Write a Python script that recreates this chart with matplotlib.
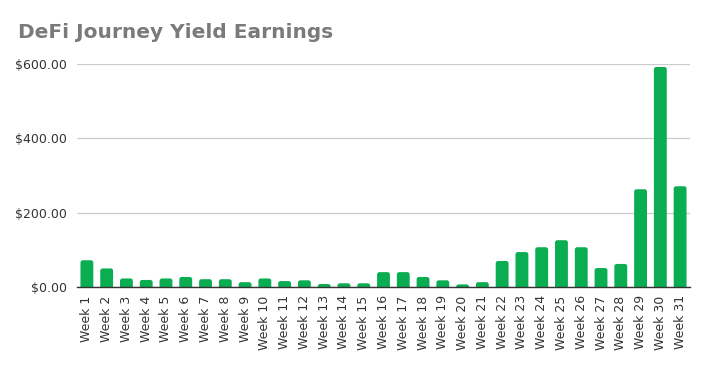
import numpy as np
import matplotlib.pyplot as plt
from matplotlib.patches import FancyBboxPatch

# weekly yield in dollars
weeks = [f"Week {i}" for i in range(1, 32)]
earnings = [72, 50, 23, 19, 23, 27, 21, 21, 13, 23,
            16, 18, 8, 10, 10, 40, 40, 27, 18, 7,
            13, 70, 94, 107, 126, 107, 51, 62, 263, 592, 271]
yticks = [0, 200, 400, 600]
ytick_labels = ["$0.00", "$200.00", "$400.00", "$600.00"]

fig = plt.figure(figsize=(7.06, 3.67), dpi=100)
ax = fig.add_axes([77/706, 1 - 287/367, (690 - 77)/706, (287 - 64)/367])

x = np.arange(len(weeks))
bw = 0.65
# y units per x unit on screen, so the corner rounding stays circular
aspect = (600 / 223) / (31 / 613)
for xi, v in zip(x, earnings):
    p = FancyBboxPatch((xi - bw/2, -12), bw, v + 12,
                       boxstyle="round,pad=0,rounding_size=0.12",
                       mutation_aspect=aspect,
                       facecolor="#0aad52", edgecolor="none", zorder=3)
    ax.add_patch(p)

ax.set_xlim(-0.5, len(weeks) - 0.5)
ax.set_ylim(0, 600)
ax.set_yticks(yticks)
ax.set_yticklabels(ytick_labels, fontsize=9, color="#333333")
ax.set_xticks(x)
ax.set_xticklabels(weeks, rotation=90, fontsize=9, color="#333333")
ax.tick_params(length=0, pad=6)
ax.tick_params(axis="y", pad=7)

ax.grid(axis="y", color="#cccccc", linewidth=0.9, zorder=0)
for s in ["top", "right", "left"]:
    ax.spines[s].set_visible(False)
ax.spines["bottom"].set_color("#333333")
ax.spines["bottom"].set_linewidth(1.0)
ax.spines["bottom"].set_zorder(4)

fig.text(18/706, 1 - 32/367, "DeFi Journey Yield Earnings", fontsize=14.5,
         fontweight="bold", color="#7a7a7a", ha="left", va="center")

fig.savefig("out.png", dpi=100, facecolor="white")
